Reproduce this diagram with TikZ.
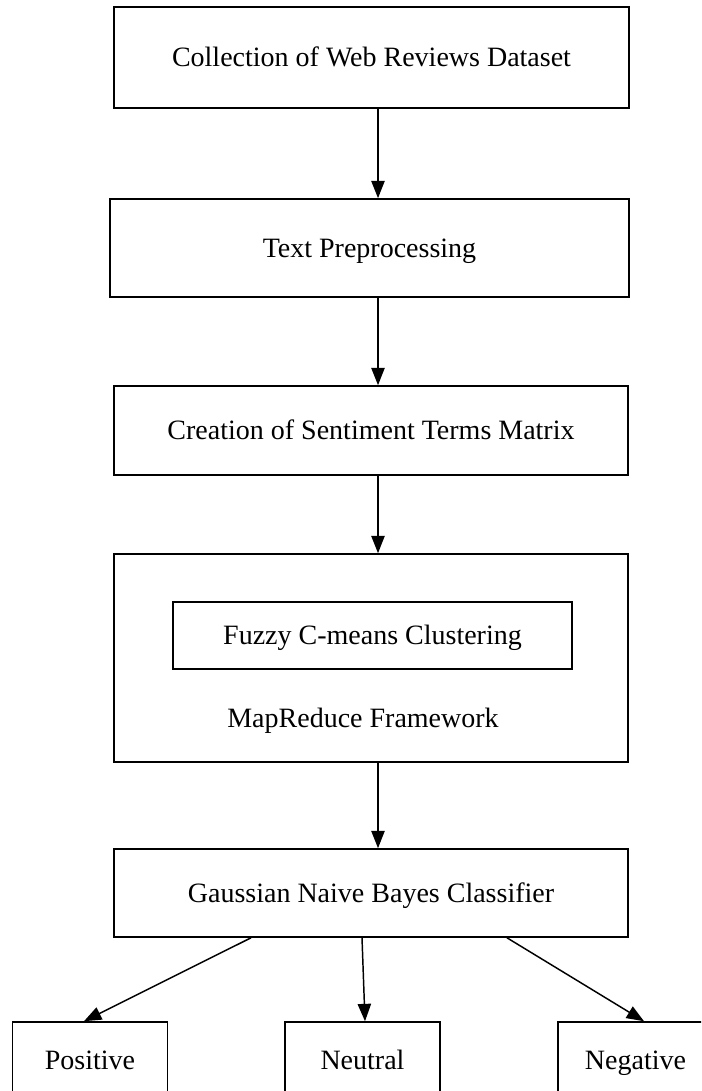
\documentclass[tikz,border=0pt]{standalone}
\usetikzlibrary{arrows.meta}
\usetikzlibrary{calc}
\usepackage{fontspec}
\setmainfont{Liberation Serif}
\tikzset{stagebox/.style={draw, line width=1.2pt, rectangle, inner sep=0pt, text height=16pt, text depth=2pt, font=\fontsize{21}{25}\selectfont}}
\tikzset{flowarrow/.style={line width=1.1pt, -{Triangle[length=13pt, width=10pt]}}}

\begin{document}
\begin{tikzpicture}[x=0.75pt, y=-0.75pt]
      \useasboundingbox (0, 0) rectangle (701, 1091);
      \clip (0, 0) rectangle (701, 1091);
      \node [stagebox, minimum width=386.25pt, minimum height=75.75pt] (collect) at (371.5, 57.5) {Collection of Web Reviews Dataset};
      \node [stagebox, minimum width=389.25pt, minimum height=73.5pt] (prep) at (369.5, 248) {Text Preprocessing};
      \node [stagebox, minimum width=385.5pt, minimum height=66.75pt] (matrix) at (371, 430.5) {Creation of Sentiment Terms Matrix};
      \node [stagebox, minimum width=385.5pt, minimum height=156pt] (mapred) at (371, 658) {};
      \node [stagebox, minimum width=299.25pt, minimum height=50.25pt] (fcm) at (372.5, 635.5) {Fuzzy C-means Clustering};
      \node [font=\fontsize{21}{25}\selectfont] (mrlabel) at (363, 721) {MapReduce Framework};
      \node [stagebox, minimum width=385.5pt, minimum height=66pt] (gnb) at (371, 893) {Gaussian Naive Bayes Classifier};

      \node [stagebox, minimum width=116.25pt, minimum height=57pt] (pos) at (90, 1060) {Positive};
      \node [stagebox, minimum width=116.25pt, minimum height=57pt] (neu) at (362.5, 1060) {Neutral};
      \node [stagebox, minimum width=116.25pt, minimum height=57pt] (neg) at (635.5, 1060) {Negative};

      \coordinate (ax) at (378, 0);
      \draw [flowarrow] (collect.south -| ax) -- (prep.north -| ax);
      \draw [flowarrow] (prep.south -| ax) -- (matrix.north -| ax);
      \draw [flowarrow] (matrix.south -| ax) -- (mapred.north -| ax);
      \draw [flowarrow] (mapred.south -| ax) -- (gnb.north -| ax);

      \draw [flowarrow] ($(gnb.south)+(-120, 0)$) -- ($(pos.north)+(-6, 0)$);
      \draw [flowarrow] ($(gnb.south)+(-9, 0)$) -- ($(neu.north)+(2.5, 0)$);
      \draw [flowarrow] ($(gnb.south)+(136, 0)$) -- ($(neg.north)+(8.5, 0)$);
    \end{tikzpicture}
\end{document}
